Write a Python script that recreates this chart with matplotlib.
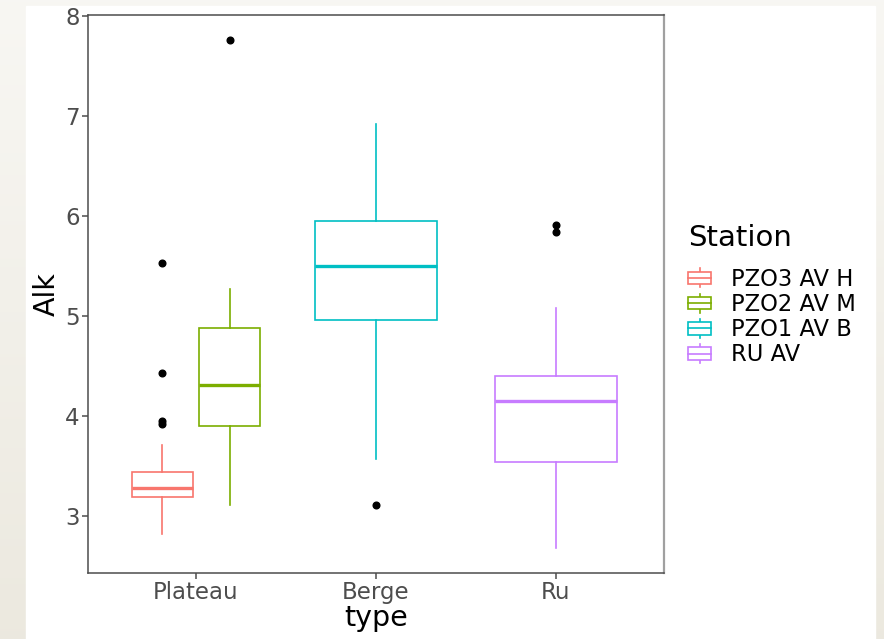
import matplotlib
matplotlib.use("Agg")
import matplotlib.pyplot as plt
import numpy as np
from matplotlib.legend_handler import HandlerBase
from matplotlib.patches import Rectangle
from matplotlib.lines import Line2D

categories = ["Plateau", "Berge", "Ru"]
stations = ["PZO3 AV H", "PZO2 AV M", "PZO1 AV B", "RU AV"]
station_type = ["Plateau", "Plateau", "Berge", "Ru"]
colors = ["#F8766D", "#7CAE00", "#00BFC4", "#C77CFF"]

whisker_low = [2.82, 3.11, 3.57, 2.68]
q1 = [3.19, 3.90, 4.96, 3.54]
median = [3.28, 4.31, 5.50, 4.15]
q3 = [3.44, 4.88, 5.95, 4.40]
whisker_high = [3.71, 5.27, 6.92, 5.08]
outliers = [[5.53, 4.43, 3.95, 3.92], [7.76], [3.11], [5.91, 5.84]]

W, H = 884, 639
fig = plt.figure(figsize=(W / 100, H / 100), dpi=100)

# background: beige gradient with white card
bg = fig.add_axes([0, 0, 1, 1], zorder=-10)
grad = np.linspace(0, 1, 256).reshape(-1, 1)
top_c = np.array([0.972, 0.968, 0.953])
bot_c = np.array([0.925, 0.913, 0.875])
img = top_c + (bot_c - top_c) * grad[..., None]
bg.imshow(img, aspect="auto", extent=[0, 1, 0, 1], origin="upper")
bg.add_patch(Rectangle((26 / W, 0), (875 - 26) / W, (H - 6) / H, color="white",
                       transform=bg.transAxes))
bg.set_xlim(0, 1); bg.set_ylim(0, 1)
bg.axis("off")

ax = fig.add_axes([88 / W, (H - 573) / H, (663.7 - 88) / W, (573 - 14.7) / H])

cat_pos = {c: i + 1 for i, c in enumerate(categories)}
# dodge within categories
positions = []
widths = []
for i, t in enumerate(station_type):
    members = [j for j, s in enumerate(station_type) if s == t]
    n = len(members)
    k = members.index(i)
    if n == 1:
        positions.append(cat_pos[t]); widths.append(0.68)
    else:
        offs = (k - (n - 1) / 2) * 0.375
        positions.append(cat_pos[t] + offs); widths.append(0.34)

lw = 1.2
for i in range(len(stations)):
    st = [dict(med=median[i], q1=q1[i], q3=q3[i], whislo=whisker_low[i],
               whishi=whisker_high[i], fliers=outliers[i])]
    ax.bxp(st, positions=[positions[i]], widths=widths[i], showcaps=False,
           patch_artist=True, manage_ticks=False,
           boxprops=dict(facecolor="white", edgecolor=colors[i], linewidth=lw),
           whiskerprops=dict(color=colors[i], linewidth=lw),
           medianprops=dict(color=colors[i], linewidth=2.4),
           flierprops=dict(marker="o", markerfacecolor="black", markeredgecolor="black",
                           markersize=4.8))

ax.set_xlim(0.4, 3.6)
ax.set_ylim(2.43, 8.01)
ax.set_xticks([1, 2, 3])
ax.set_xticklabels(categories)
ax.set_yticks([3, 4, 5, 6, 7, 8])
ax.tick_params(axis="both", labelsize=16.5, labelcolor="#4D4D4D", color="#4D4D4D",
               length=4, width=1.1, pad=2)
ax.set_xlabel("type", fontsize=20.5, labelpad=0)
ax.set_ylabel("Alk", fontsize=20.5, labelpad=3)
for s in ["left", "bottom", "top"]:
    ax.spines[s].set_color("#4D4D4D")
    ax.spines[s].set_linewidth(1.1)
ax.spines["right"].set_color("#A0A0A0")
ax.spines["right"].set_linewidth(1.6)


class BoxHandler(HandlerBase):
    def create_artists(self, legend, orig_handle, xdescent, ydescent, width, height,
                       fontsize, trans):
        c = orig_handle.get_color()
        x0, y0 = -xdescent, -ydescent
        cx = x0 + width / 2
        bh = height * 0.66
        by = y0 + (height - bh) / 2
        arts = [
            Line2D([cx, cx], [y0, by], color=c, lw=lw, transform=trans),
            Line2D([cx, cx], [by + bh, y0 + height], color=c, lw=lw, transform=trans),
            Rectangle((x0, by), width, bh, facecolor="white", edgecolor=c, lw=lw,
                      transform=trans),
            Line2D([x0, x0 + width], [by + bh / 2] * 2, color=c, lw=lw, transform=trans),
        ]
        return arts


handles = [Line2D([], [], color=c) for c in colors]
leg = fig.legend(handles, stations, loc="upper left",
                 bbox_to_anchor=(668 / W, 1 - 204 / H), frameon=False,
                 title="Station", title_fontsize=21, fontsize=16.3,
                 handler_map={Line2D: BoxHandler()}, handlelength=1.0,
                 handleheight=0.9, labelspacing=0.1, handletextpad=0.9,
                 alignment="left")
leg._legend_box.sep = 11

fig.savefig("out.png", dpi=100)
